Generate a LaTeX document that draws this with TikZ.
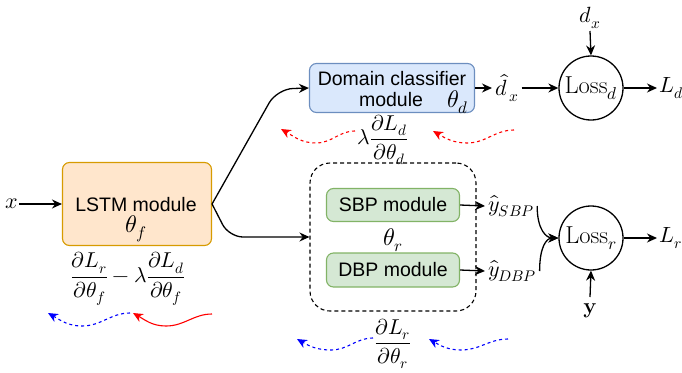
\documentclass[tikz,border=0pt]{standalone}
\usepackage{fontspec}
\usepackage{unicode-math}
\setsansfont{Liberation Sans}
\usetikzlibrary{arrows.meta}

\definecolor{lstmfill}{HTML}{FFE6CC}
\definecolor{lstmdraw}{HTML}{D79B00}
\definecolor{dcfill}{HTML}{DAE8FC}
\definecolor{dcdraw}{HTML}{6C8EBF}
\definecolor{modfill}{HTML}{D5E8D4}
\definecolor{moddraw}{HTML}{82B366}
\definecolor{gradblue}{HTML}{0000FF}
\definecolor{gradred}{HTML}{FF0000}

\tikzset{
  tip/.style={-{Stealth[length=10pt,width=9pt]}},
  conn/.style={tip, line width=1.3pt},
  box/.style={draw, rounded corners=7pt, line width=1.1pt, inner sep=0pt},
  sans/.style={font=\fontsize{19.5}{23}\sffamily, inner sep=0pt},
  mth/.style={font=\fontsize{22}{26}\selectfont, inner sep=1pt},
  param/.style={font=\fontsize{24}{28}\selectfont, inner sep=0pt},
  frac/.style={font=\fontsize{21.5}{25}\selectfont, inner sep=1pt},
  lossnode/.style={draw, circle, line width=1.3pt, minimum size=64pt, inner sep=0pt, font=\fontsize{24.5}{29}\selectfont},
  backprop/.style={line width=1.1pt, -{Stealth[length=10pt,width=9pt]}},
}

\begin{document}
\begin{tikzpicture}[x=1pt,y=-1pt]
\useasboundingbox (0,0) rectangle (682,372);

% feature extractor
\node[box, fill=lstmfill, draw=lstmdraw, minimum width=149pt, minimum height=83pt] (lstm) at (137,204) {};
\node[sans] (lstmtxt) at (136,205) {LSTM module};
\node[param] (thf) at (136,229) {$\theta_f$};
\node[mth] (xin) at (12,204) {$x$};
\draw[conn] (xin) -- (lstm.west);

% domain classifier
\node[box, fill=dcfill, draw=dcdraw, minimum width=165pt, minimum height=49pt] (dc) at (392,88) {};
\node[sans] (dctxt1) at (392,79) {Domain classifier};
\node[sans] (dctxt2) at (391,100) {module};
\node[param] (thd) at (458,102) {$\theta_d$};

% regressor group
\node[draw, dashed, dash pattern=on 4pt off 3pt, rounded corners=20pt, line width=1.1pt,
      minimum width=166pt, minimum height=148pt] (grp) at (393,237) {};
\node[box, fill=modfill, draw=moddraw, minimum width=133pt, minimum height=33pt] (sbp) at (393,205) {};
\node[sans] (sbptxt) at (393,205) {SBP module};
\node[box, fill=modfill, draw=moddraw, minimum width=133pt, minimum height=34pt] (dbp) at (393,270) {};
\node[sans] (dbptxt) at (393,270) {DBP module};
\node[param] (thr) at (393,240) {$\theta_r$};

% branches out of the feature extractor
\draw[conn, rounded corners=16pt] (lstm.east) -- (277,89) -- (dc.west);
\draw[conn, rounded corners=14pt] (lstm.east) -- (229,237) -- (grp.west);

% outputs
\node[mth, anchor=west, inner sep=3pt] (dhat) at (492,88) {$\hat{d}_{\,x}$};
\node[mth, anchor=west, inner sep=3pt] (ysbp) at (485,206) {$\hat{y}_{SBP}$};
\node[mth, anchor=west, inner sep=3pt] (ydbp) at (485,271) {$\hat{y}_{DBP}$};
\draw[conn] (dc.east) -- (dhat.west);
\draw[conn] (sbp.east) -- (ysbp.west);
\draw[conn] (dbp.east) -- (ydbp.west);

% losses
\node[lossnode] (lossd) at (591,88) {$\mathrm{Loss}_d$};
\node[lossnode] (lossr) at (591,238) {$\mathrm{Loss}_r$};
\node[mth, anchor=west, inner sep=2pt] (Ld) at (657,88) {$L_d$};
\node[mth, anchor=west, inner sep=2pt] (Lr) at (657,238) {$L_r$};
\node[mth] (dx) at (590,18) {$d_x$};
\node[mth] (ylab) at (590,311) {$\mathbf{y}$};
\coordinate (dxend) at (590,31);
\coordinate (yend) at (590,297);

\draw[conn] (dhat.east) -- (lossd.west);
\draw[conn] (dxend) -- (lossd.north);
\draw[conn] (lossd.east) -- (Ld.west);
\draw[conn] (lossr.east) -- (Lr.west);
\draw[conn] (yend) -- (lossr.south);
\draw[conn] (ysbp.east) .. controls +(0,24) and +(-12,0) .. (lossr.west);
\draw[conn] (ydbp.east) .. controls +(0,-24) and +(-12,0) .. (lossr.west);

% gradient labels
\node[frac] (gradf) at (128,279) {$\displaystyle\frac{\partial L_r}{\partial\theta_f}-\lambda\frac{\partial L_d}{\partial\theta_f}$};
\node[frac] (gradd) at (383,140) {$\displaystyle\lambda\frac{\partial L_d}{\partial\theta_d}$};
\node[frac] (gradr) at (393,344) {$\displaystyle\frac{\partial L_r}{\partial\theta_r}$};

% back-propagation waves
\coordinate (wa1) at (130,313); \coordinate (wa2) at (48,313);
\coordinate (wb1) at (212,314); \coordinate (wb2) at (133,313);
\coordinate (wc1) at (355,131); \coordinate (wc2) at (281,129);
\coordinate (wd1) at (514,130); \coordinate (wd2) at (433,131);
\coordinate (we1) at (373,338); \coordinate (we2) at (297,339);
\coordinate (wf1) at (508,339); \coordinate (wf2) at (429,339);

\draw[backprop, draw=gradblue, dashed] (wa1) to[out=180,in=0] (82,326) to[out=180,in=-30] (wa2);
\draw[backprop, draw=gradred] (wb1) to[out=180,in=0] (166,326) to[out=180,in=-30] (wb2);
\draw[backprop, draw=gradred, dashed] (wc1) to[out=180,in=0] (316,143) to[out=180,in=-30] (wc2);
\draw[backprop, draw=gradred, dashed] (wd1) to[out=180,in=0] (467,143) to[out=180,in=-30] (wd2);
\draw[backprop, draw=gradblue, dashed] (we1) to[out=180,in=0] (331,350) to[out=180,in=-30] (we2);
\draw[backprop, draw=gradblue, dashed] (wf1) to[out=180,in=0] (461,350) to[out=180,in=-30] (wf2);
\end{tikzpicture}
\end{document}
